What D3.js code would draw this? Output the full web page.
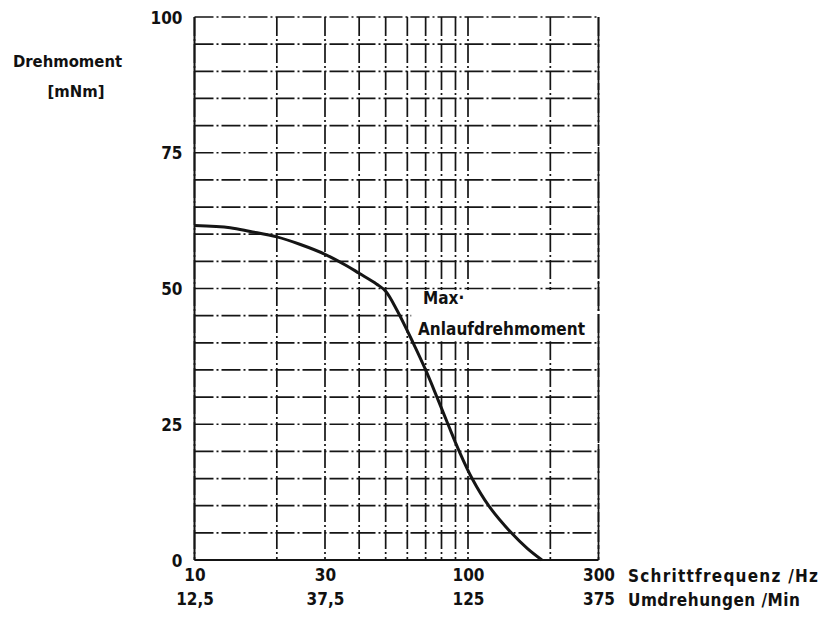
<!DOCTYPE html>
<html>
<head>
<meta charset="utf-8">
<script src="https://cdn.jsdelivr.net/npm/d3@7"></script>
<style>
    body { margin: 0; background: white; }
    text { font-family: "DejaVu Sans Condensed", "DejaVu Sans", sans-serif; font-weight: bold; fill: #111; }
</style>
</head>
<body>
<div id="chart"></div>
<script>
// values
let frequency = [10, 13.5, 16, 20, 24.4, 30, 36, 40, 46.4, 50, 55, 63, 70, 77, 84.5, 92.9, 103.5, 119, 144, 165, 186.3];
let torque    = [61.6, 61.2, 60.5, 59.5, 58.1, 56.3, 54.2, 52.8, 50.8, 49.5, 46, 40, 35, 30, 25, 20, 15, 10, 5, 2.1, 0];

let xTickValues = [10, 30, 100, 300];
let rpmLabels = ["12,5", "37,5", "125", "375"];
let yTickValues = [0, 25, 50, 75, 100];
let xGridValues = [10, 20, 30, 40, 50, 60, 70, 80, 90, 100, 200, 300];
let yGridValues = [0, 5, 10, 15, 20, 25, 30, 35, 40, 45, 50, 55, 60, 65, 70, 75, 80, 85, 90, 95, 100];

function createChart() {
    let width = 822;
    let height = 622;
    let ink = "#151515";

    let svg = d3.select("#chart")
        .append("svg")
        .attr("width", width)
        .attr("height", height)
        .style("background", "white");

    let xScale = d3.scaleLog()
        .domain([10, 300])
        .range([194.5, 598.5]);

    let yScale = d3.scaleLinear()
        .domain([0, 100])
        .range([560, 17]);

    // GRID (photocopied dash look)
    let grid = svg.append("g")
        .attr("stroke", ink)
        .attr("stroke-width", 1.7)
        .attr("stroke-dasharray", "19,3,2,3");

    grid.selectAll(".hgrid")
        .data(yGridValues)
        .enter().append("line")
        .attr("x1", xScale(10))
        .attr("x2", xScale(300))
        .attr("y1", function(d) { return yScale(d); })
        .attr("y2", function(d) { return yScale(d); });

    grid.selectAll(".vgrid")
        .data(xGridValues)
        .enter().append("line")
        .attr("x1", function(d) { return xScale(d); })
        .attr("x2", function(d) { return xScale(d); })
        .attr("y1", yScale(100))
        .attr("y2", yScale(0));

    // white box for the label
    svg.append("rect")
        .attr("x", xScale(62))
        .attr("y", yScale(50) + 1.5)
        .attr("width", xScale(300) - xScale(62) - 1.5)
        .attr("height", yScale(40) - yScale(50) - 3)
        .attr("fill", "white");

    // solid left and bottom edges
    svg.append("line")
        .attr("x1", xScale(10)).attr("x2", xScale(10))
        .attr("y1", yScale(100)).attr("y2", yScale(0))
        .attr("stroke", ink).attr("stroke-width", 2);
    svg.append("line")
        .attr("x1", xScale(10)).attr("x2", xScale(300))
        .attr("y1", yScale(0)).attr("y2", yScale(0))
        .attr("stroke", ink).attr("stroke-width", 2);
    svg.append("line")
        .attr("x1", xScale(300)).attr("x2", xScale(300))
        .attr("y1", yScale(100)).attr("y2", yScale(0))
        .attr("stroke", ink).attr("stroke-width", 1.7)
        .attr("stroke-dasharray", "30,3");

    // CURVE
    let points = frequency.map(function(f, i) { return [f, torque[i]]; });
    let line = d3.line()
        .x(function(d) { return xScale(d[0]); })
        .y(function(d) { return yScale(d[1]); })
        .curve(d3.curveCatmullRom.alpha(0.5));

    svg.append("path")
        .datum(points)
        .attr("d", line)
        .attr("fill", "none")
        .attr("stroke", ink)
        .attr("stroke-width", 3);

    // Y AXIS
    let yAxis = svg.append("g")
        .attr("transform", "translate(" + xScale(10) + ",0)")
        .call(d3.axisLeft(yScale).tickValues(yTickValues).tickSize(0).tickPadding(12));
    yAxis.select(".domain").remove();
    yAxis.selectAll("text")
        .attr("font-size", 17)
        .attr("dy", "0.36em")
        .style("font-family", "\"DejaVu Sans Condensed\", sans-serif");

    // X AXIS (Hz)
    let xAxis = svg.append("g")
        .attr("transform", "translate(0," + yScale(0) + ")")
        .call(d3.axisBottom(xScale).tickValues(xTickValues).tickFormat(d3.format("d")).tickSize(0).tickPadding(9));
    xAxis.select(".domain").remove();
    xAxis.selectAll("text")
        .attr("font-size", 17)
        .style("font-family", "\"DejaVu Sans Condensed\", sans-serif");

    // X AXIS (rpm)
    let rpmAxis = svg.append("g")
        .attr("transform", "translate(0," + (yScale(0) + 24) + ")")
        .call(d3.axisBottom(xScale).tickValues(xTickValues)
            .tickFormat(function(d, i) { return rpmLabels[i]; })
            .tickSize(0).tickPadding(9));
    rpmAxis.select(".domain").remove();
    rpmAxis.selectAll("text")
        .attr("font-size", 17)
        .style("font-family", "\"DejaVu Sans Condensed\", sans-serif");

    // AXIS LABELS
    svg.append("text")
        .attr("x", 628)
        .attr("y", 582)
        .attr("font-size", 17)
        .attr("textLength", 190)
        .text("Schrittfrequenz /Hz");

    svg.append("text")
        .attr("x", 628)
        .attr("y", 606)
        .attr("font-size", 17)
        .attr("textLength", 172)
        .text("Umdrehungen /Min");

    svg.append("text")
        .attr("x", 67.5)
        .attr("y", 67)
        .attr("text-anchor", "middle")
        .attr("font-size", 16.5)
        .text("Drehmoment");

    svg.append("text")
        .attr("x", 76)
        .attr("y", 97)
        .attr("text-anchor", "middle")
        .attr("font-size", 16.5)
        .text("[mNm]");

    // CURVE LABEL
    svg.append("text")
        .attr("x", 423)
        .attr("y", 304)
        .attr("font-size", 17)
        .text("Max·");

    svg.append("text")
        .attr("x", 418)
        .attr("y", 335)
        .attr("font-size", 17)
        .attr("textLength", 167)
        .text("Anlaufdrehmoment");
}

window.onload = () => {
    createChart();
}
</script>
</body>
</html>
